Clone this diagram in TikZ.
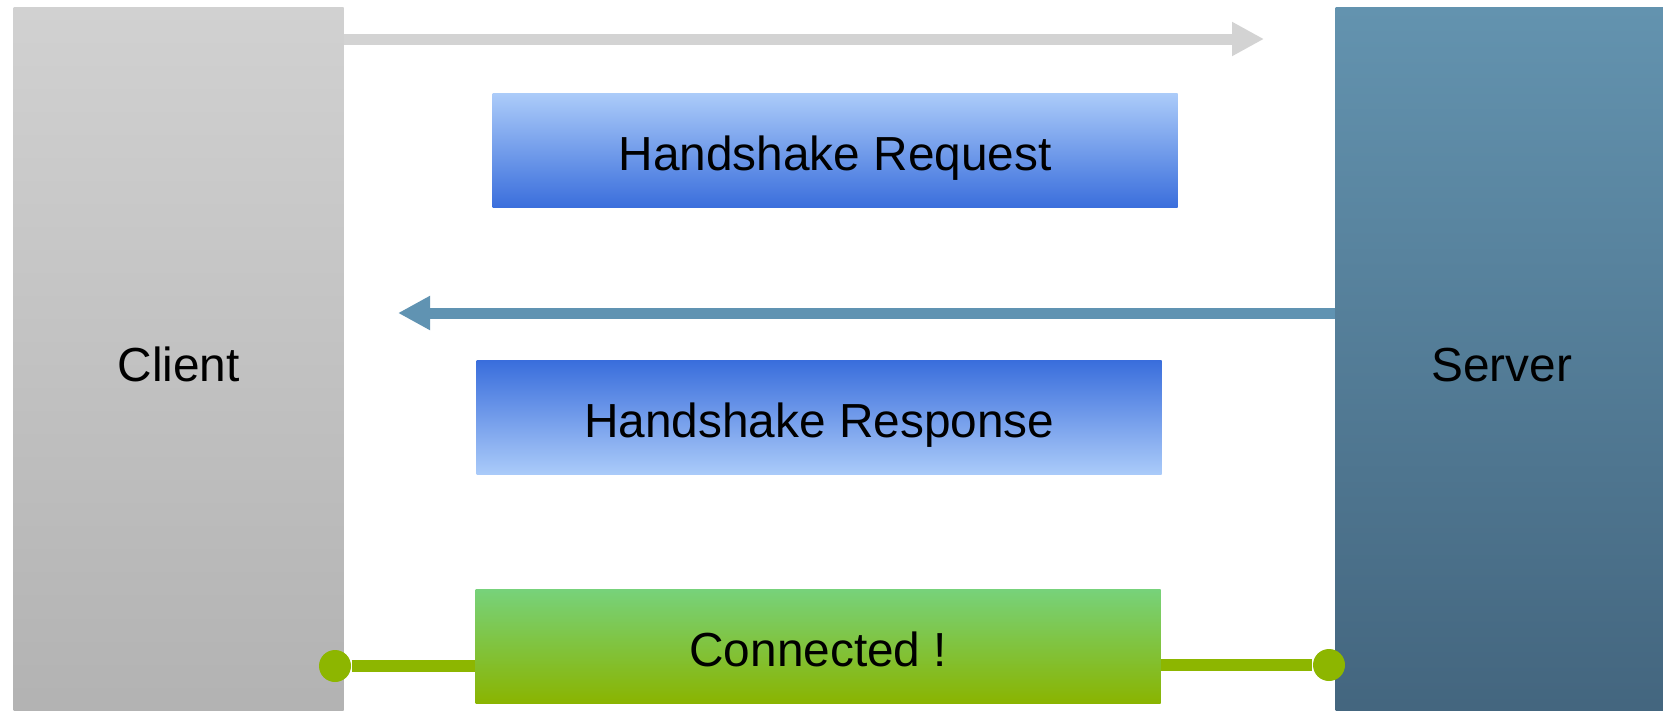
\documentclass[tikz,border=0pt]{standalone}
\usepackage{fontspec}
\setmainfont{Liberation Sans}
\usepackage{tikz}
\usetikzlibrary{arrows.meta,positioning}

\definecolor{cltop}{RGB}{209,209,209}
\definecolor{clbot}{RGB}{178,178,178}
\definecolor{svtop}{RGB}{99,147,175}
\definecolor{svbot}{RGB}{67,101,126}
\definecolor{lightblue}{RGB}{171,203,249}
\definecolor{darkblue}{RGB}{58,110,220}
\definecolor{lightgreen}{RGB}{119,210,122}
\definecolor{olive}{RGB}{138,180,0}
\definecolor{reqarrow}{RGB}{211,211,211}
\definecolor{resparrow}{RGB}{96,147,178}
\definecolor{linkgreen}{RGB}{141,182,0}

\begin{document}
\begin{tikzpicture}[
    every node/.style={font=\fontsize{13.6}{16}\selectfont},
    side/.style={rectangle, inner sep=0pt, anchor=north west, minimum height=7.14cm},
    msg/.style={rectangle, inner sep=0pt, anchor=north west, minimum width=6.85cm, minimum height=1.14cm,
      text height=11.4pt, text depth=0pt},
    flow/.style={line width=0.11cm, -{Triangle[length=0.32cm, width=0.32cm]}},
    dot/.style={circle, fill=linkgreen, inner sep=0pt, minimum size=0.32cm}]

  \clip (0,0) rectangle (16.63,-7.10);
  \useasboundingbox (0,0) rectangle (16.63,-7.10);

  % Define nodes
  \node[side, minimum width=3.30cm, top color=cltop, bottom color=clbot] (client) at (0.13,-0.07) {Client};
  \node[side, minimum width=3.32cm, top color=svtop, bottom color=svbot] (server) at (13.35,-0.07) {Server};

  % Messages -->
  \node[msg, top color=lightblue, bottom color=darkblue] (req) at (4.92,-0.93) {Handshake Request};
  \node[msg, top color=darkblue, bottom color=lightblue] (resp) at (4.76,-3.60) {Handshake Response};
  \node[msg, top color=lightgreen, bottom color=olive] (conn) at (4.75,-5.89) {Connected !};

  \coordinate (reqtip) at (12.64,-0.39);
  \coordinate (resptip) at (3.98,-3.13);

  \draw [flow, reqarrow] (client.east |- reqtip) -- (reqtip);
  \draw [flow, resparrow] (server.west |- resptip) -- (resptip);

  % Connected line -->
  \node[dot] (ldot) at (3.35,-6.66) {};
  \node[dot] (rdot) at (13.29,-6.65) {};

  \draw [line width=0.12cm, linkgreen] (ldot) -- (conn.west |- ldot);
  \draw [line width=0.12cm, linkgreen] (conn.east |- rdot) -- (rdot);

\end{tikzpicture}
\end{document}
